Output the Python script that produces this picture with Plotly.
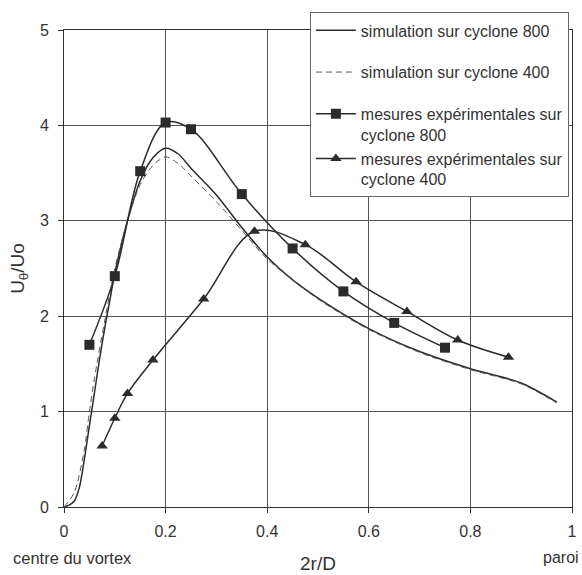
import plotly.graph_objects as go

# Simulation, cyclone 800 (solid)
sim800_x = [0, 0.01, 0.02, 0.03, 0.04, 0.05, 0.06, 0.07, 0.08, 0.09, 0.1, 0.125, 0.15, 0.175, 0.2,
            0.225, 0.25, 0.3, 0.35, 0.4, 0.45, 0.5, 0.6, 0.7, 0.8, 0.9, 0.97]
sim800_y = [0, 0.02, 0.06, 0.2, 0.5, 0.85, 1.2, 1.55, 1.87, 2.16, 2.45, 3.0, 3.42, 3.66, 3.76,
            3.7, 3.55, 3.27, 2.93, 2.62, 2.38, 2.19, 1.87, 1.63, 1.45, 1.30, 1.10]

# Simulation, cyclone 400 (dashed)
sim400_x = [0, 0.02, 0.04, 0.05, 0.06, 0.08, 0.1, 0.125, 0.15, 0.175, 0.2, 0.225, 0.25, 0.3, 0.35,
            0.4, 0.5, 0.6, 0.7, 0.8, 0.9, 0.97]
sim400_y = [0, 0.15, 0.6, 1.0, 1.35, 1.95, 2.5, 3.0, 3.38, 3.58, 3.67, 3.6, 3.47, 3.2, 2.9,
            2.6, 2.18, 1.86, 1.62, 1.44, 1.29, 1.09]

# Measurements, cyclone 800 (squares)
exp800_x = [0.05, 0.1, 0.15, 0.2, 0.25, 0.35, 0.45, 0.55, 0.65, 0.75]
exp800_y = [1.70, 2.42, 3.52, 4.03, 3.96, 3.28, 2.71, 2.26, 1.93, 1.67]

# Measurements, cyclone 400 (triangles)
exp400_x = [0.075, 0.1, 0.125, 0.175, 0.275, 0.375, 0.475, 0.575, 0.675, 0.775, 0.875]
exp400_y = [0.64, 0.93, 1.19, 1.54, 2.18, 2.89, 2.75, 2.36, 2.05, 1.75, 1.57]

x_ticks = [0, 0.2, 0.4, 0.6, 0.8, 1]
x_ticklabels = ["0", "0.2", "0.4", "0.6", "0.8", "1"]
y_ticks = [0, 1, 2, 3, 4, 5]

names = ["simulation sur cyclone 800",
         "simulation sur cyclone 400",
         "mesures expérimentales sur<br>cyclone 800",
         "mesures expérimentales sur<br>cyclone 400"]

INK = "#2b2b2b"
TXT = "#333333"
FONT = "Liberation Sans, Arial, sans-serif"

fig = go.Figure()
fig.add_trace(go.Scatter(x=sim800_x, y=sim800_y, mode="lines", name=names[0], legendgroup="a",
                         line=dict(color=INK, width=1.5, shape="spline", smoothing=0.8)))
fig.add_trace(go.Scatter(x=sim400_x, y=sim400_y, mode="lines", name=names[1], legendgroup="b",
                         line=dict(color="#555555", width=1, dash="6px,4px", shape="spline", smoothing=0.8)))
fig.add_trace(go.Scatter(x=exp800_x, y=exp800_y, mode="lines+markers", name=names[2], legendgroup="c",
                         line=dict(color=INK, width=1.5, shape="spline", smoothing=1),
                         marker=dict(symbol="square", size=10, color=INK)))
fig.add_trace(go.Scatter(x=exp400_x, y=exp400_y, mode="lines+markers", name=names[3], legendgroup="c",
                         line=dict(color=INK, width=1.5, shape="spline", smoothing=1),
                         marker=dict(symbol="triangle-up", size=10, color=INK)))

fig.update_layout(
    width=582, height=575,
    margin=dict(l=64, r=10, t=30, b=68),
    paper_bgcolor="white", plot_bgcolor="white",
    font=dict(family=FONT, size=16, color=TXT),
    showlegend=True,
    legend=dict(x=0.484, y=1.037, xanchor="left", yanchor="top",
                bgcolor="white", bordercolor="#666666", borderwidth=1,
                font=dict(size=16, color=TXT), valign="top",
                tracegroupgap=18, itemwidth=40, groupclick="toggleitem"),
    xaxis=dict(range=[0, 1], tickvals=x_ticks, ticktext=x_ticklabels, automargin=False,
               showgrid=True, gridcolor="#555555", gridwidth=1,
               showline=True, linecolor="#333333", linewidth=1, mirror=True,
               ticks="outside", ticklen=5, tickcolor="#333333", ticklabelstandoff=5,
               tickfont=dict(size=16), zeroline=False,
               title=dict(text="2r/D", font=dict(size=19), standoff=17)),
    yaxis=dict(range=[0, 5], tickvals=y_ticks, automargin=False,
               showgrid=True, gridcolor="#555555", gridwidth=1,
               showline=True, linecolor="#333333", linewidth=1, mirror=True,
               ticks="outside", ticklen=5, tickcolor="#333333", ticklabelstandoff=6,
               tickfont=dict(size=16), zeroline=False,
               title=dict(text="U<sub>θ</sub>/Uo", font=dict(size=19), standoff=10)),
)

fig.add_annotation(x=0, y=0, xref="x", yref="paper", yshift=-40, text="centre du vortex",
                   showarrow=False, font=dict(size=16.5, color=TXT), xanchor="center", yanchor="top", xshift=8)
fig.add_annotation(x=1, y=0, xref="x", yref="paper", yshift=-40, text="paroi",
                   showarrow=False, font=dict(size=16, color=TXT), xanchor="right", yanchor="top", xshift=9)

fig.write_html("out.html")
